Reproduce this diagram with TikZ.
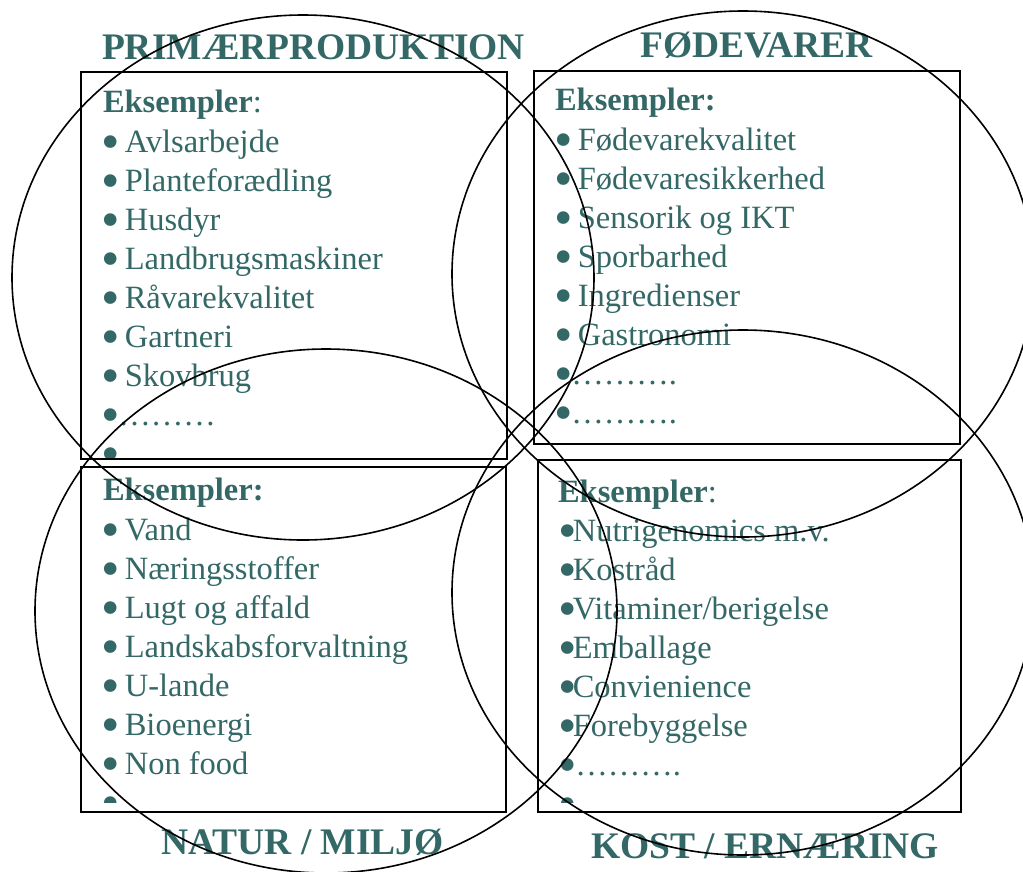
\documentclass[tikz,border=0pt]{standalone}
\usepackage{fontspec}
\usepackage{graphicx}
\setmainfont{Liberation Serif}
\definecolor{txt}{RGB}{51,104,102}
\newcommand\bul[1][23.4pt]{\makebox[#1][l]{\smash{\raisebox{-7.6pt}{\scalebox{1.62}{•}}}}}
\tikzset{
  item/.style={anchor=base west, inner sep=0pt, outer sep=0pt, text=txt, font=\fontsize{32.5}{39}\selectfont},
  title/.style={anchor=base, inner sep=0pt, text=txt, font=\bfseries\fontsize{37.5}{45}\selectfont},
  frame/.style={draw=black, line width=1.6pt},
  ring/.style={draw=black, line width=1.6pt},
}
\begin{document}
\begin{tikzpicture}[x=1pt,y=-1pt]
\useasboundingbox (0,0) rectangle (1023,871);
% titles
\node[title] (tPrim) at (313.5,59) {PRIMÆRPRODUKTION};
\node[title] (tFoed) at (756.5,57) {FØDEVARER};
\node[title] (tNat) at (302.5,854) {NATUR / MILJØ};
\node[title] (tKost) at (765,858) {KOST / ERNÆRING};
% top-left list
\begin{scope}
\clip (81,72) rectangle (507,457);
\node[item] (tl0) at (103,112) {\textbf{Eksempler}:};
\foreach \t [count=\i] in {{\bul Avlsarbejde},{\bul Planteforædling},{\bul Husdyr},{\bul Landbrugsmaskiner},{\bul Råvarekvalitet},{\bul Gartneri},{\bul Skovbrug},{\bul[17pt]………},{\bul}}
  \node[item] (tl\i) at (101.4,{113+39*\i}) {\t};
\end{scope}
% top-right list
\begin{scope}
\clip (534,71) rectangle (960,444);
\node[item] (tr0) at (555,110) {\textbf{Eksempler:}};
\foreach \t [count=\i] in {{\bul Fødevarekvalitet},{\bul Fødevaresikkerhed},{\bul Sensorik og IKT},{\bul Sporbarhed},{\bul Ingredienser},{\bul Gastronomi},{\bul[17pt]……….},{\bul[17pt]……….}}
  \node[item] (tr\i) at (554.4,{111+39*\i}) {\t};
\end{scope}
% bottom-left list
\begin{scope}
\clip (81,467) rectangle (506,802);
\node[item] (bl0) at (103,500) {\textbf{Eksempler:}};
\foreach \t [count=\i] in {{\bul Vand},{\bul Næringsstoffer},{\bul Lugt og affald},{\bul Landskabsforvaltning},{\bul U-lande},{\bul Bioenergi},{\bul Non food},{\bul}}
  \node[item] (bl\i) at (101.4,{501+39*\i}) {\t};
\end{scope}
% bottom-right list
\begin{scope}
\clip (538,460) rectangle (961,802);
\node[item] (br0) at (558,502) {\textbf{Eksempler}:};
\foreach \t [count=\i] in {{\bul[14.4pt]Nutrigenomics m.v.},{\bul[14.4pt]Kostråd},{\bul[14.4pt]Vitaminer/berigelse},{\bul[14.4pt]Emballage},{\bul[14.4pt]Convienience},{\bul[14.4pt]Forebyggelse},{\bul[17pt]……….},{\bul}}
  \node[item] (br\i) at (558.4,{502+39*\i}) {\t};
\end{scope}
% boxes
\draw[frame] (81,72) rectangle (507,459);
\draw[frame] (534,71) rectangle (960,444);
\draw[frame] (81,467) rectangle (506,812);
\draw[frame] (538,460) rectangle (961,812);
% circles
\draw[ring] (303,277.5) ellipse [x radius=291, y radius=262.5];
\draw[ring] (743,274) ellipse [x radius=291, y radius=263];
\draw[ring] (326,611) ellipse [x radius=291, y radius=262];
\draw[ring] (743,592.5) ellipse [x radius=291, y radius=262.5];
\end{tikzpicture}
\end{document}
